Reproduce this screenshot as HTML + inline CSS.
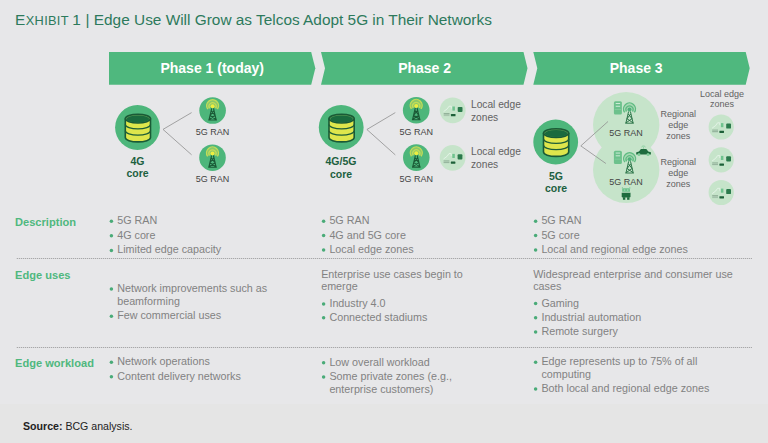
<!DOCTYPE html>
<html><head><meta charset="utf-8"><style>
html,body{margin:0;padding:0;}
body{width:768px;height:443px;overflow:hidden;background:#e7e7e9;font-family:"Liberation Sans", sans-serif;position:relative;}
.t{position:absolute;white-space:nowrap;}
svg{position:absolute;left:0;top:0;}
</style></head><body>
<div style="position:absolute;left:0;top:404px;width:768px;height:39px;background:#e5e5e5"></div>
<svg width="768" height="443" viewBox="0 0 768 443">
<polygon points="109,52 311.2,52 315.3,68.35 311.2,84.7 109,84.7" fill="#4fb87e"/>
<polygon points="321,52 523.5,52 527.5,68.35 523.5,84.7 321,84.7 325,68.35" fill="#4fb87e"/>
<polygon points="533.3,52 745.7,52 749.7,68.35 745.7,84.7 533.3,84.7 537.3,68.35" fill="#4fb87e"/>
<line x1="163" y1="129.4" x2="191.6" y2="112.6" stroke="#8f8f8f" stroke-width="0.8"/>
<line x1="163" y1="129.4" x2="191.6" y2="154.8" stroke="#8f8f8f" stroke-width="0.8"/>
<line x1="366.9" y1="129.5" x2="395.3" y2="112.6" stroke="#8f8f8f" stroke-width="0.8"/>
<line x1="366.9" y1="129.5" x2="395.3" y2="154.9" stroke="#8f8f8f" stroke-width="0.8"/>
<circle cx="626.2" cy="125.1" r="33.2" fill="#c6e4ca"/>
<circle cx="626.2" cy="169.8" r="33.2" fill="#c6e4ca"/>
<line x1="580.8" y1="145.9" x2="608" y2="121.5" stroke="#8f8f8f" stroke-width="0.8"/>
<line x1="580.8" y1="145.9" x2="605.9" y2="163.5" stroke="#8f8f8f" stroke-width="0.8"/>
<g transform="translate(115.0,105.0)"><circle cx="22.5" cy="22.5" r="22.4" fill="#4db67b"/><path d="M10.3,13.6 V32.6 A12.6,4.3 0 0 0 35.5,32.6 V13.6" fill="#dee64c" stroke="#1a5a36" stroke-width="1.6"/><path d="M10.3,19.6 A12.6,4.3 0 0 0 35.5,19.6 M10.3,25.8 A12.6,4.3 0 0 0 35.5,25.8" fill="none" stroke="#1d5e38" stroke-width="1.3"/><ellipse cx="22.9" cy="13.6" rx="12.6" ry="4.4" fill="#5d9d55" stroke="#1a5a36" stroke-width="1.6"/><ellipse cx="22.9" cy="14" rx="11.3" ry="3.6" fill="#1a6a3e"/></g>
<g transform="translate(318.7,105.0)"><circle cx="22.5" cy="22.5" r="22.4" fill="#4db67b"/><path d="M10.3,13.6 V32.6 A12.6,4.3 0 0 0 35.5,32.6 V13.6" fill="#dee64c" stroke="#1a5a36" stroke-width="1.6"/><path d="M10.3,19.6 A12.6,4.3 0 0 0 35.5,19.6 M10.3,25.8 A12.6,4.3 0 0 0 35.5,25.8" fill="none" stroke="#1d5e38" stroke-width="1.3"/><ellipse cx="22.9" cy="13.6" rx="12.6" ry="4.4" fill="#5d9d55" stroke="#1a5a36" stroke-width="1.6"/><ellipse cx="22.9" cy="14" rx="11.3" ry="3.6" fill="#1a6a3e"/></g>
<g transform="translate(533.2,119.5)"><circle cx="22.5" cy="22.5" r="22.4" fill="#4db67b"/><path d="M10.3,13.6 V32.6 A12.6,4.3 0 0 0 35.5,32.6 V13.6" fill="#dee64c" stroke="#1a5a36" stroke-width="1.6"/><path d="M10.3,19.6 A12.6,4.3 0 0 0 35.5,19.6 M10.3,25.8 A12.6,4.3 0 0 0 35.5,25.8" fill="none" stroke="#1d5e38" stroke-width="1.3"/><ellipse cx="22.9" cy="13.6" rx="12.6" ry="4.4" fill="#5d9d55" stroke="#1a5a36" stroke-width="1.6"/><ellipse cx="22.9" cy="14" rx="11.3" ry="3.6" fill="#1a6a3e"/></g>
<circle cx="212.6" cy="110.5" r="13.3" fill="#4db67b"/>
<g transform="translate(212.6,110.5) scale(1.0)"><path d="M-4.9,-1.3 A6,6 0 1 1 4.9,-1.3 L0,-4.3 Z" fill="#8cc968"/><path d="M-4.9,-1.3 A6,6 0 1 1 4.9,-1.3" fill="none" stroke="#c4dc58" stroke-width="1.3"/><path d="M-3,-2.2 A3.6,3.6 0 1 1 3,-2.2" fill="none" stroke="#c4dc58" stroke-width="1.2"/><circle cx="0" cy="-4.3" r="2" fill="#eeee40"/><path d="M-0.9,-2.2 L-3.6,9.3 M0.9,-2.2 L3.6,9.3 M-4.3,9.5 H4.3 M-1.2,0.3 L2.5,5 M1.2,0.3 L-2.5,5 M-2.5,5 L3.3,9 M2.5,5 L-3.3,9" fill="none" stroke="#1a5a36" stroke-width="1.1"/></g>
<circle cx="212.5" cy="157.7" r="13.3" fill="#4db67b"/>
<g transform="translate(212.5,157.7) scale(1.0)"><path d="M-4.9,-1.3 A6,6 0 1 1 4.9,-1.3 L0,-4.3 Z" fill="#8cc968"/><path d="M-4.9,-1.3 A6,6 0 1 1 4.9,-1.3" fill="none" stroke="#c4dc58" stroke-width="1.3"/><path d="M-3,-2.2 A3.6,3.6 0 1 1 3,-2.2" fill="none" stroke="#c4dc58" stroke-width="1.2"/><circle cx="0" cy="-4.3" r="2" fill="#eeee40"/><path d="M-0.9,-2.2 L-3.6,9.3 M0.9,-2.2 L3.6,9.3 M-4.3,9.5 H4.3 M-1.2,0.3 L2.5,5 M1.2,0.3 L-2.5,5 M-2.5,5 L3.3,9 M2.5,5 L-3.3,9" fill="none" stroke="#1a5a36" stroke-width="1.1"/></g>
<circle cx="416.2" cy="110.2" r="13.3" fill="#4db67b"/>
<g transform="translate(416.2,110.2) scale(1.0)"><path d="M-4.9,-1.3 A6,6 0 1 1 4.9,-1.3 L0,-4.3 Z" fill="#8cc968"/><path d="M-4.9,-1.3 A6,6 0 1 1 4.9,-1.3" fill="none" stroke="#c4dc58" stroke-width="1.3"/><path d="M-3,-2.2 A3.6,3.6 0 1 1 3,-2.2" fill="none" stroke="#c4dc58" stroke-width="1.2"/><circle cx="0" cy="-4.3" r="2" fill="#eeee40"/><path d="M-0.9,-2.2 L-3.6,9.3 M0.9,-2.2 L3.6,9.3 M-4.3,9.5 H4.3 M-1.2,0.3 L2.5,5 M1.2,0.3 L-2.5,5 M-2.5,5 L3.3,9 M2.5,5 L-3.3,9" fill="none" stroke="#1a5a36" stroke-width="1.1"/></g>
<circle cx="416.3" cy="157.6" r="13.3" fill="#4db67b"/>
<g transform="translate(416.3,157.6) scale(1.0)"><path d="M-4.9,-1.3 A6,6 0 1 1 4.9,-1.3 L0,-4.3 Z" fill="#8cc968"/><path d="M-4.9,-1.3 A6,6 0 1 1 4.9,-1.3" fill="none" stroke="#c4dc58" stroke-width="1.3"/><path d="M-3,-2.2 A3.6,3.6 0 1 1 3,-2.2" fill="none" stroke="#c4dc58" stroke-width="1.2"/><circle cx="0" cy="-4.3" r="2" fill="#eeee40"/><path d="M-0.9,-2.2 L-3.6,9.3 M0.9,-2.2 L3.6,9.3 M-4.3,9.5 H4.3 M-1.2,0.3 L2.5,5 M1.2,0.3 L-2.5,5 M-2.5,5 L3.3,9 M2.5,5 L-3.3,9" fill="none" stroke="#1a5a36" stroke-width="1.1"/></g>
<g transform="translate(452.7,110.4)"><circle cx="0" cy="0" r="12.9" fill="#c6e4ca"/><path d="M-9.1,1.2 L-5.5,-1.5 L-3.6,-4.2 L-1.4,-4.2 L-1.4,-1.8" fill="none" stroke="#eaf6ec" stroke-width="0.8"/><rect x="-0.3" y="-3.9" width="2.5" height="4.1" fill="#6fc38e"/><rect x="5" y="-3.5" width="4.8" height="5.1" rx="0.9" fill="#2b7a4c"/><rect x="-1.8" y="3.7" width="4.6" height="2.2" rx="0.4" fill="#1d6038"/><rect x="-9" y="2.6" width="5.8" height="3.4" fill="#bfdcc4"/><path d="M-9,3.1 H-3.2 M-9,4.6 H-3.2" stroke="#76967d" stroke-width="0.6"/></g>
<g transform="translate(452.6,157.8)"><circle cx="0" cy="0" r="12.9" fill="#c6e4ca"/><path d="M-9.1,1.2 L-5.5,-1.5 L-3.6,-4.2 L-1.4,-4.2 L-1.4,-1.8" fill="none" stroke="#eaf6ec" stroke-width="0.8"/><rect x="-0.3" y="-3.9" width="2.5" height="4.1" fill="#6fc38e"/><rect x="5" y="-3.5" width="4.8" height="5.1" rx="0.9" fill="#2b7a4c"/><rect x="-1.8" y="3.7" width="4.6" height="2.2" rx="0.4" fill="#1d6038"/><rect x="-9" y="2.6" width="5.8" height="3.4" fill="#bfdcc4"/><path d="M-9,3.1 H-3.2 M-9,4.6 H-3.2" stroke="#76967d" stroke-width="0.6"/></g>
<g transform="translate(721.2,127)"><circle cx="0" cy="0" r="12.6" fill="#c6e4ca"/><path d="M-9.1,1.2 L-5.5,-1.5 L-3.6,-4.2 L-1.4,-4.2 L-1.4,-1.8" fill="none" stroke="#eaf6ec" stroke-width="0.8"/><rect x="-0.3" y="-3.9" width="2.5" height="4.1" fill="#6fc38e"/><rect x="5" y="-3.5" width="4.8" height="5.1" rx="0.9" fill="#2b7a4c"/><rect x="-1.8" y="3.7" width="4.6" height="2.2" rx="0.4" fill="#1d6038"/><rect x="-9" y="2.6" width="5.8" height="3.4" fill="#bfdcc4"/><path d="M-9,3.1 H-3.2 M-9,4.6 H-3.2" stroke="#76967d" stroke-width="0.6"/></g>
<g transform="translate(721.2,159.8)"><circle cx="0" cy="0" r="12.6" fill="#c6e4ca"/><path d="M-9.1,1.2 L-5.5,-1.5 L-3.6,-4.2 L-1.4,-4.2 L-1.4,-1.8" fill="none" stroke="#eaf6ec" stroke-width="0.8"/><rect x="-0.3" y="-3.9" width="2.5" height="4.1" fill="#6fc38e"/><rect x="5" y="-3.5" width="4.8" height="5.1" rx="0.9" fill="#2b7a4c"/><rect x="-1.8" y="3.7" width="4.6" height="2.2" rx="0.4" fill="#1d6038"/><rect x="-9" y="2.6" width="5.8" height="3.4" fill="#bfdcc4"/><path d="M-9,3.1 H-3.2 M-9,4.6 H-3.2" stroke="#76967d" stroke-width="0.6"/></g>
<g transform="translate(721.2,192.5)"><circle cx="0" cy="0" r="12.6" fill="#c6e4ca"/><path d="M-9.1,1.2 L-5.5,-1.5 L-3.6,-4.2 L-1.4,-4.2 L-1.4,-1.8" fill="none" stroke="#eaf6ec" stroke-width="0.8"/><rect x="-0.3" y="-3.9" width="2.5" height="4.1" fill="#6fc38e"/><rect x="5" y="-3.5" width="4.8" height="5.1" rx="0.9" fill="#2b7a4c"/><rect x="-1.8" y="3.7" width="4.6" height="2.2" rx="0.4" fill="#1d6038"/><rect x="-9" y="2.6" width="5.8" height="3.4" fill="#bfdcc4"/><path d="M-9,3.1 H-3.2 M-9,4.6 H-3.2" stroke="#76967d" stroke-width="0.6"/></g>
<g transform="translate(613.9,101.2)"><rect x="0" y="0" width="8" height="13.2" rx="1.5" fill="#6cc18c"/><rect x="1.8" y="1.8" width="4.4" height="0.9" fill="#d8f0df"/><rect x="1.8" y="4.6" width="4.4" height="0.9" fill="#d8f0df"/><rect x="0.8" y="8" width="6.4" height="0.6" fill="#8fd3a6"/></g>
<g transform="translate(613.9,150.8)"><rect x="0" y="0" width="8" height="13.2" rx="1.5" fill="#6cc18c"/><rect x="1.8" y="1.8" width="4.4" height="0.9" fill="#d8f0df"/><rect x="1.8" y="4.6" width="4.4" height="0.9" fill="#d8f0df"/><rect x="0.8" y="8" width="6.4" height="0.6" fill="#8fd3a6"/></g>
<g transform="translate(629.5,113.7) scale(1.0)"><path d="M-4.9,-1.3 A6,6 0 1 1 4.9,-1.3 L0,-4.3 Z" fill="#a8d8b4"/><path d="M-4.9,-1.3 A6,6 0 1 1 4.9,-1.3" fill="none" stroke="#5dbb80" stroke-width="1.3"/><path d="M-3,-2.2 A3.6,3.6 0 1 1 3,-2.2" fill="none" stroke="#5dbb80" stroke-width="1.2"/><circle cx="0" cy="-4.3" r="2" fill="#4fb07a"/><path d="M-0.9,-2.2 L-3.6,9.3 M0.9,-2.2 L3.6,9.3 M-4.3,9.5 H4.3 M-1.2,0.3 L2.5,5 M1.2,0.3 L-2.5,5 M-2.5,5 L3.3,9 M2.5,5 L-3.3,9" fill="none" stroke="#1d6a3c" stroke-width="0.9"/></g>
<g transform="translate(629.6,163.5) scale(1.0)"><path d="M-4.9,-1.3 A6,6 0 1 1 4.9,-1.3 L0,-4.3 Z" fill="#a8d8b4"/><path d="M-4.9,-1.3 A6,6 0 1 1 4.9,-1.3" fill="none" stroke="#5dbb80" stroke-width="1.3"/><path d="M-3,-2.2 A3.6,3.6 0 1 1 3,-2.2" fill="none" stroke="#5dbb80" stroke-width="1.2"/><circle cx="0" cy="-4.3" r="2" fill="#4fb07a"/><path d="M-0.9,-2.2 L-3.6,9.3 M0.9,-2.2 L3.6,9.3 M-4.3,9.5 H4.3 M-1.2,0.3 L2.5,5 M1.2,0.3 L-2.5,5 M-2.5,5 L3.3,9 M2.5,5 L-3.3,9" fill="none" stroke="#1d6a3c" stroke-width="0.9"/></g>
<g transform="translate(643.5,152)"><path d="M-7.4,2.4 L-7.2,0.2 L-4.5,-0.6 L-2.6,-3 L2.8,-3 L4.8,-0.6 L7.4,0.2 L7.4,2.4 Z" fill="#1e6b3e"/><circle cx="-4.5" cy="2.5" r="1.5" fill="#7fcb98"/><circle cx="4.5" cy="2.5" r="1.5" fill="#7fcb98"/><path d="M-2,-5 A2.6,2.6 0 0 1 2,-5" fill="none" stroke="#7fcb98" stroke-width="0.9"/><circle cx="0" cy="-4" r="0.7" fill="#7fcb98"/></g>
<g transform="translate(626.1,194)"><path d="M-3.9,-2.2 V-4.4 Q-3.9,-5.8 -2.5,-5.8 H2.5 Q3.9,-5.8 3.9,-4.4 V-2.2 Z" fill="#6ec38e"/><circle cx="-3.7" cy="-6.1" r="0.6" fill="#6ec38e"/><circle cx="3.7" cy="-6.1" r="0.6" fill="#6ec38e"/><rect x="-2.2" y="-4.4" width="1.3" height="0.9" fill="#b9e6c8"/><rect x="0.9" y="-4.4" width="1.3" height="0.9" fill="#b9e6c8"/><path d="M-4.4,-1.2 H4.4 V2.3 Q4.4,3.6 3.1,3.6 H-3.1 Q-4.4,3.6 -4.4,2.3 Z" fill="#1e6b3e"/><rect x="-3.2" y="3.2" width="2.4" height="2.6" fill="#1e6b3e"/><rect x="1" y="3.2" width="2.4" height="2.6" fill="#1e6b3e"/></g>
<line x1="16.8" y1="258.5" x2="752.3" y2="258.5" stroke="#999999" stroke-width="1" stroke-dasharray="1 1"/>
<line x1="16.8" y1="347.5" x2="752.3" y2="347.5" stroke="#999999" stroke-width="1" stroke-dasharray="1 1"/>
<circle cx="111.4" cy="221.2" r="1.75" fill="#4aab78"/>
<circle cx="111.4" cy="235.79999999999998" r="1.75" fill="#4aab78"/>
<circle cx="111.4" cy="250.39999999999998" r="1.75" fill="#4aab78"/>
<circle cx="323.59999999999997" cy="221.2" r="1.75" fill="#4aab78"/>
<circle cx="323.59999999999997" cy="235.6" r="1.75" fill="#4aab78"/>
<circle cx="323.59999999999997" cy="250.0" r="1.75" fill="#4aab78"/>
<circle cx="535.6" cy="221.2" r="1.75" fill="#4aab78"/>
<circle cx="535.6" cy="235.6" r="1.75" fill="#4aab78"/>
<circle cx="535.6" cy="250.0" r="1.75" fill="#4aab78"/>
<circle cx="111.4" cy="288.9" r="1.75" fill="#4aab78"/>
<circle cx="111.4" cy="316.29999999999995" r="1.75" fill="#4aab78"/>
<circle cx="323.59999999999997" cy="303.9" r="1.75" fill="#4aab78"/>
<circle cx="323.59999999999997" cy="317.79999999999995" r="1.75" fill="#4aab78"/>
<circle cx="535.6" cy="303.6" r="1.75" fill="#4aab78"/>
<circle cx="535.6" cy="317.8" r="1.75" fill="#4aab78"/>
<circle cx="535.6" cy="332.0" r="1.75" fill="#4aab78"/>
<circle cx="111.4" cy="362.3" r="1.75" fill="#4aab78"/>
<circle cx="111.4" cy="376.8" r="1.75" fill="#4aab78"/>
<circle cx="323.59999999999997" cy="362.8" r="1.75" fill="#4aab78"/>
<circle cx="323.59999999999997" cy="377.0" r="1.75" fill="#4aab78"/>
<circle cx="535.6" cy="362.3" r="1.75" fill="#4aab78"/>
<circle cx="535.6" cy="388.90000000000003" r="1.75" fill="#4aab78"/>
</svg>
<div class="t" style="left:15.00px;top:11.32px;font-size:15.4px;line-height:18.48px;color:#2d7a5c;font-weight:400;">E<span style="font-size:12.8px;letter-spacing:0.3px;margin-left:0.5px">XHIBIT</span></div>
<div class="t" style="left:72.30px;top:11.32px;font-size:15.4px;line-height:18.48px;color:#2d7a5c;font-weight:400;">1</div>
<div class="t" style="left:85.50px;top:11.32px;font-size:15.4px;line-height:18.48px;color:#2d7a5c;font-weight:400;">|</div>
<div class="t" style="left:93.80px;top:11.32px;font-size:15.4px;line-height:18.48px;color:#2d7a5c;font-weight:400;">Edge Use Will Grow as Telcos Adopt 5G in Their Networks</div>
<div class="t" style="left:112.20px;top:59.65px;width:200px;text-align:center;font-size:14px;line-height:16.8px;color:#ffffff;font-weight:700;">Phase 1 (today)</div>
<div class="t" style="left:324.60px;top:59.65px;width:200px;text-align:center;font-size:14px;line-height:16.8px;color:#ffffff;font-weight:700;">Phase 2</div>
<div class="t" style="left:536.20px;top:59.65px;width:200px;text-align:center;font-size:14px;line-height:16.8px;color:#ffffff;font-weight:700;">Phase 3</div>
<div class="t" style="left:97.50px;top:154.91px;width:80px;text-align:center;font-size:10.5px;line-height:12.5px;color:#1c6040;font-weight:700;">4G<br>core</div>
<div class="t" style="left:301.00px;top:155.11px;width:80px;text-align:center;font-size:10.5px;line-height:12.5px;color:#1c6040;font-weight:700;">4G/5G<br>core</div>
<div class="t" style="left:516.00px;top:169.56px;width:80px;text-align:center;font-size:10.5px;line-height:12.2px;color:#1c6040;font-weight:700;">5G<br>core</div>
<div class="t" style="left:172.40px;top:126.98px;width:80px;text-align:center;font-size:9px;line-height:10.799999999999999px;color:#444444;font-weight:400;">5G RAN</div>
<div class="t" style="left:172.40px;top:173.78px;width:80px;text-align:center;font-size:9px;line-height:10.799999999999999px;color:#444444;font-weight:400;">5G RAN</div>
<div class="t" style="left:376.20px;top:127.08px;width:80px;text-align:center;font-size:9px;line-height:10.799999999999999px;color:#444444;font-weight:400;">5G RAN</div>
<div class="t" style="left:376.20px;top:173.98px;width:80px;text-align:center;font-size:9px;line-height:10.799999999999999px;color:#444444;font-weight:400;">5G RAN</div>
<div class="t" style="left:586.00px;top:127.88px;width:80px;text-align:center;font-size:9px;line-height:10.799999999999999px;color:#444444;font-weight:400;">5G RAN</div>
<div class="t" style="left:586.00px;top:176.98px;width:80px;text-align:center;font-size:9px;line-height:10.799999999999999px;color:#444444;font-weight:400;">5G RAN</div>
<div class="t" style="left:471.00px;top:97.67px;font-size:10.2px;line-height:13px;color:#626262;font-weight:400;">Local edge<br>zones</div>
<div class="t" style="left:471.00px;top:145.17px;font-size:10.2px;line-height:13px;color:#626262;font-weight:400;">Local edge<br>zones</div>
<div class="t" style="left:682.00px;top:90.28px;width:80px;text-align:center;font-size:9px;line-height:9.6px;color:#626262;font-weight:400;">Local edge<br>zones</div>
<div class="t" style="left:638.20px;top:108.98px;width:80px;text-align:center;font-size:9px;line-height:10.8px;color:#626262;font-weight:400;">Regional<br>edge<br>zones</div>
<div class="t" style="left:638.20px;top:157.28px;width:80px;text-align:center;font-size:9px;line-height:10.8px;color:#626262;font-weight:400;">Regional<br>edge<br>zones</div>
<div class="t" style="left:15.00px;top:215.79px;font-size:11.1px;line-height:13.319999999999999px;color:#4fb87e;font-weight:700;">Description</div>
<div class="t" style="left:15.00px;top:268.89px;font-size:11.1px;line-height:13.319999999999999px;color:#4fb87e;font-weight:700;">Edge uses</div>
<div class="t" style="left:15.00px;top:356.89px;font-size:11.1px;line-height:13.319999999999999px;color:#4fb87e;font-weight:700;">Edge workload</div>
<div class="t" style="left:117.20px;top:214.28px;font-size:10.75px;line-height:12.6px;color:#828282;font-weight:400;">5G RAN</div>
<div class="t" style="left:117.20px;top:228.88px;font-size:10.75px;line-height:12.6px;color:#828282;font-weight:400;">4G core</div>
<div class="t" style="left:117.20px;top:243.48px;font-size:10.75px;line-height:12.6px;color:#828282;font-weight:400;">Limited edge capacity</div>
<div class="t" style="left:329.40px;top:214.28px;font-size:10.75px;line-height:12.6px;color:#828282;font-weight:400;">5G RAN</div>
<div class="t" style="left:329.40px;top:228.68px;font-size:10.75px;line-height:12.6px;color:#828282;font-weight:400;">4G and 5G core</div>
<div class="t" style="left:329.40px;top:243.08px;font-size:10.75px;line-height:12.6px;color:#828282;font-weight:400;">Local edge zones</div>
<div class="t" style="left:541.40px;top:214.28px;font-size:10.75px;line-height:12.6px;color:#828282;font-weight:400;">5G RAN</div>
<div class="t" style="left:541.40px;top:228.68px;font-size:10.75px;line-height:12.6px;color:#828282;font-weight:400;">5G core</div>
<div class="t" style="left:541.40px;top:243.08px;font-size:10.75px;line-height:12.6px;color:#828282;font-weight:400;">Local and regional edge zones</div>
<div class="t" style="left:117.20px;top:281.88px;font-size:10.75px;line-height:12.8px;color:#828282;font-weight:400;">Network improvements such as<br>beamforming</div>
<div class="t" style="left:117.20px;top:309.28px;font-size:10.75px;line-height:12.8px;color:#828282;font-weight:400;">Few commercial uses</div>
<div class="t" style="left:321.20px;top:267.88px;font-size:10.75px;line-height:12.4px;color:#828282;font-weight:400;">Enterprise use cases begin to<br>emerge</div>
<div class="t" style="left:329.40px;top:296.98px;font-size:10.75px;line-height:12.6px;color:#828282;font-weight:400;">Industry 4.0</div>
<div class="t" style="left:329.40px;top:310.88px;font-size:10.75px;line-height:12.6px;color:#828282;font-weight:400;">Connected stadiums</div>
<div class="t" style="left:533.20px;top:267.68px;font-size:10.75px;line-height:12.4px;color:#828282;font-weight:400;">Widespread enterprise and consumer use<br>cases</div>
<div class="t" style="left:541.40px;top:296.68px;font-size:10.75px;line-height:12.6px;color:#828282;font-weight:400;">Gaming</div>
<div class="t" style="left:541.40px;top:310.88px;font-size:10.75px;line-height:12.6px;color:#828282;font-weight:400;">Industrial automation</div>
<div class="t" style="left:541.40px;top:325.08px;font-size:10.75px;line-height:12.6px;color:#828282;font-weight:400;">Remote surgery</div>
<div class="t" style="left:117.20px;top:355.38px;font-size:10.75px;line-height:12.6px;color:#828282;font-weight:400;">Network operations</div>
<div class="t" style="left:117.20px;top:369.88px;font-size:10.75px;line-height:12.6px;color:#828282;font-weight:400;">Content delivery networks</div>
<div class="t" style="left:329.40px;top:355.93px;font-size:10.75px;line-height:12.5px;color:#828282;font-weight:400;">Low overall workload</div>
<div class="t" style="left:329.40px;top:370.13px;font-size:10.75px;line-height:12.5px;color:#828282;font-weight:400;">Some private zones (e.g.,<br>enterprise customers)</div>
<div class="t" style="left:541.40px;top:355.43px;font-size:10.75px;line-height:12.5px;color:#828282;font-weight:400;">Edge represents up to 75% of all<br>computing</div>
<div class="t" style="left:541.40px;top:382.03px;font-size:10.75px;line-height:12.5px;color:#828282;font-weight:400;">Both local and regional edge zones</div>
<div class="t" style="left:23.00px;top:419.97px;font-size:10.6px;line-height:12.719999999999999px;color:#222222;font-weight:400;"><b>Source:</b> BCG analysis.</div>
</body></html>
